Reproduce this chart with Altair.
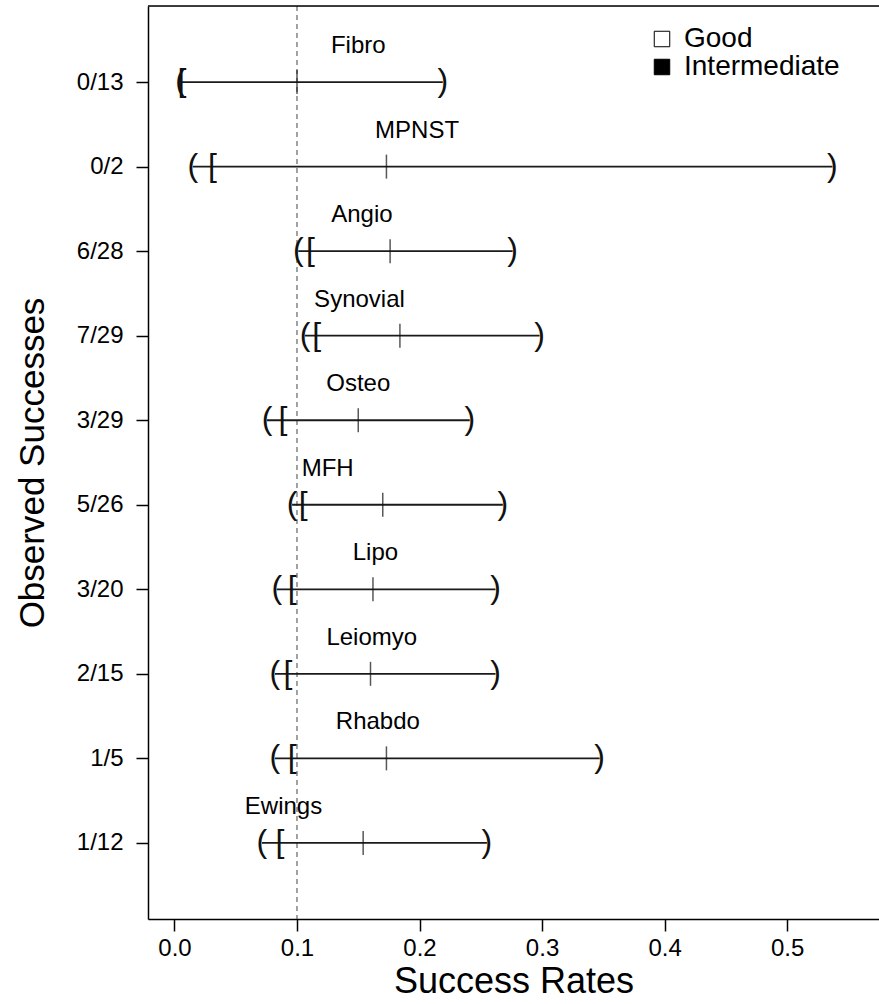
import json
import altair as alt
import pandas as pd

# Sarcoma subtypes, observed successes and interval summaries of the success rate
groups = ["Fibro", "MPNST", "Angio", "Synovial", "Osteo", "MFH", "Lipo", "Leiomyo", "Rhabdo", "Ewings"]
observed = ["0/13", "0/2", "6/28", "7/29", "3/29", "5/26", "3/20", "2/15", "1/5", "1/12"]
rows = [10, 9, 8, 7, 6, 5, 4, 3, 2, 1]
good_lower = [0.005, 0.015, 0.101, 0.1065, 0.0755, 0.096, 0.0835, 0.082, 0.082, 0.0714]
inter_lower = [0.006, 0.031, 0.111, 0.116, 0.0886, 0.105, 0.096, 0.0927, 0.096, 0.086]
estimate = [0.100, 0.173, 0.176, 0.184, 0.150, 0.170, 0.162, 0.160, 0.173, 0.154]
upper = [0.219, 0.537, 0.276, 0.298, 0.241, 0.268, 0.262, 0.262, 0.347, 0.255]
label_x = [0.150, 0.198, 0.153, 0.151, 0.150, 0.125, 0.164, 0.161, 0.166, 0.089]
reference_rate = 0.1
x_ticks = [0.0, 0.1, 0.2, 0.3, 0.4, 0.5]

FONT = "Liberation Sans, Arial, sans-serif"

df = pd.DataFrame({
    "group": groups, "observed": observed, "row": rows,
    "good_lower": good_lower, "inter_lower": inter_lower,
    "estimate": estimate, "upper": upper, "label_x": label_x,
})

lower_long = pd.concat([
    pd.DataFrame({"row": rows, "x": good_lower, "kind": "Good", "glyph": "("}),
    pd.DataFrame({"row": rows, "x": inter_lower, "kind": "Intermediate", "glyph": "["}),
], ignore_index=True)

x_scale = alt.Scale(domain=[-0.0216, 0.575], nice=False, zero=False)
y_scale = alt.Scale(domain=[0.1, 10.9], nice=False, zero=False)

# y tick labels come from the observed successes, indexed by row number
y_label_lookup = [""] + list(reversed(observed))
y_label_expr = json.dumps(y_label_lookup) + "[datum.value]"

x_axis = alt.Axis(
    values=x_ticks, format=".1f", title="Success Rates", grid=False,
    labelFontSize=24, labelFont=FONT, titleFont=FONT, titleFontSize=36,
    titleFontWeight="normal", tickSize=12, labelPadding=5, titlePadding=4,
    domainColor="black", tickColor="black", labelColor="black", titleColor="black",
    domainWidth=1.5, tickWidth=1.5,
)
y_axis = alt.Axis(
    values=list(range(1, 11)), labelExpr=y_label_expr, title="Observed Successes",
    grid=False, labelFontSize=24, labelFont=FONT, titleFont=FONT, titleFontSize=35,
    titleFontWeight="normal", tickSize=12, labelPadding=13, titlePadding=26,
    domainColor="black", tickColor="black", labelColor="black", titleColor="black",
    domainWidth=1.5, tickWidth=1.5,
)


def xq(field):
    return alt.X(f"{field}:Q", scale=x_scale, axis=x_axis, title="Success Rates")


def yq(field):
    return alt.Y(f"{field}:Q", scale=y_scale, axis=y_axis, title="Observed Successes")


base = alt.Chart(df)

# interval line from the outer lower bound to the upper bound
segments = base.mark_rule(color="#1a1a1a", strokeWidth=1.8).encode(
    x=xq("good_lower"), x2="upper:Q", y=yq("row"),
)

# point estimate tick
est_ticks = base.mark_tick(orient="vertical", size=24, thickness=1.5, color="#111").encode(
    x=xq("estimate"), y=yq("row"),
)

# closing parenthesis at the upper bound
upper_glyph = base.mark_text(text=")", fontSize=32, font=FONT, color="#111",
                             align="center", baseline="middle", dy=-1).encode(
    x=xq("upper"), y=yq("row"),
)

# opening glyphs: "(" for the good bound, "[" for the intermediate bound
lower_glyphs = alt.Chart(lower_long).mark_text(fontSize=32, font=FONT, color="#111",
                                               align="center", baseline="middle", dy=-1).encode(
    x=xq("x"), y=yq("row"), text="glyph:N",
)

# legend carrier for the two bound types
legend_points = alt.Chart(lower_long).mark_point(shape="square", filled=True, opacity=0).encode(
    x=xq("x"),
    y=yq("row"),
    fill=alt.Fill(
        "kind:N",
        scale=alt.Scale(domain=["Good", "Intermediate"], range=["white", "black"]),
        legend=alt.Legend(
            orient="none", legendX=500, legendY=19, title=None, symbolType="square",
            symbolSize=240, symbolOpacity=1, symbolStrokeColor="black", symbolStrokeWidth=1,
            labelFontSize=28, labelFont=FONT, labelColor="black", labelOffset=8,
            rowPadding=0,
        ),
    ),
)

# subtype names above each interval
names = base.mark_text(fontSize=24, font=FONT, color="black", align="center",
                       baseline="middle", dy=-36).encode(
    x=xq("label_x"), y=yq("row"), text="group:N",
)

# reference success rate
ref_line = alt.Chart(pd.DataFrame({"rate": [reference_rate]})).mark_rule(
    color="#444", strokeWidth=1, strokeDash=[5, 4]
).encode(x=xq("rate"))

# top border of the plotting box
top_border = alt.Chart(pd.DataFrame({"rate": [reference_rate]})).mark_rule(
    color="black", strokeWidth=1.5
).encode(x=alt.value(0), x2=alt.value(731), y=alt.value(0))

chart = alt.layer(
    legend_points, ref_line, top_border, segments, est_ticks, upper_glyph, lower_glyphs, names
).properties(
    width=731, height=913,
    autosize=alt.AutoSizeParams(type="none"),
    padding={"left": 148, "top": 6, "right": 0, "bottom": 85},
).configure_view(stroke=None).configure(background="white")

chart.save("out.html", embed_options={"renderer": "svg", "actions": False})
